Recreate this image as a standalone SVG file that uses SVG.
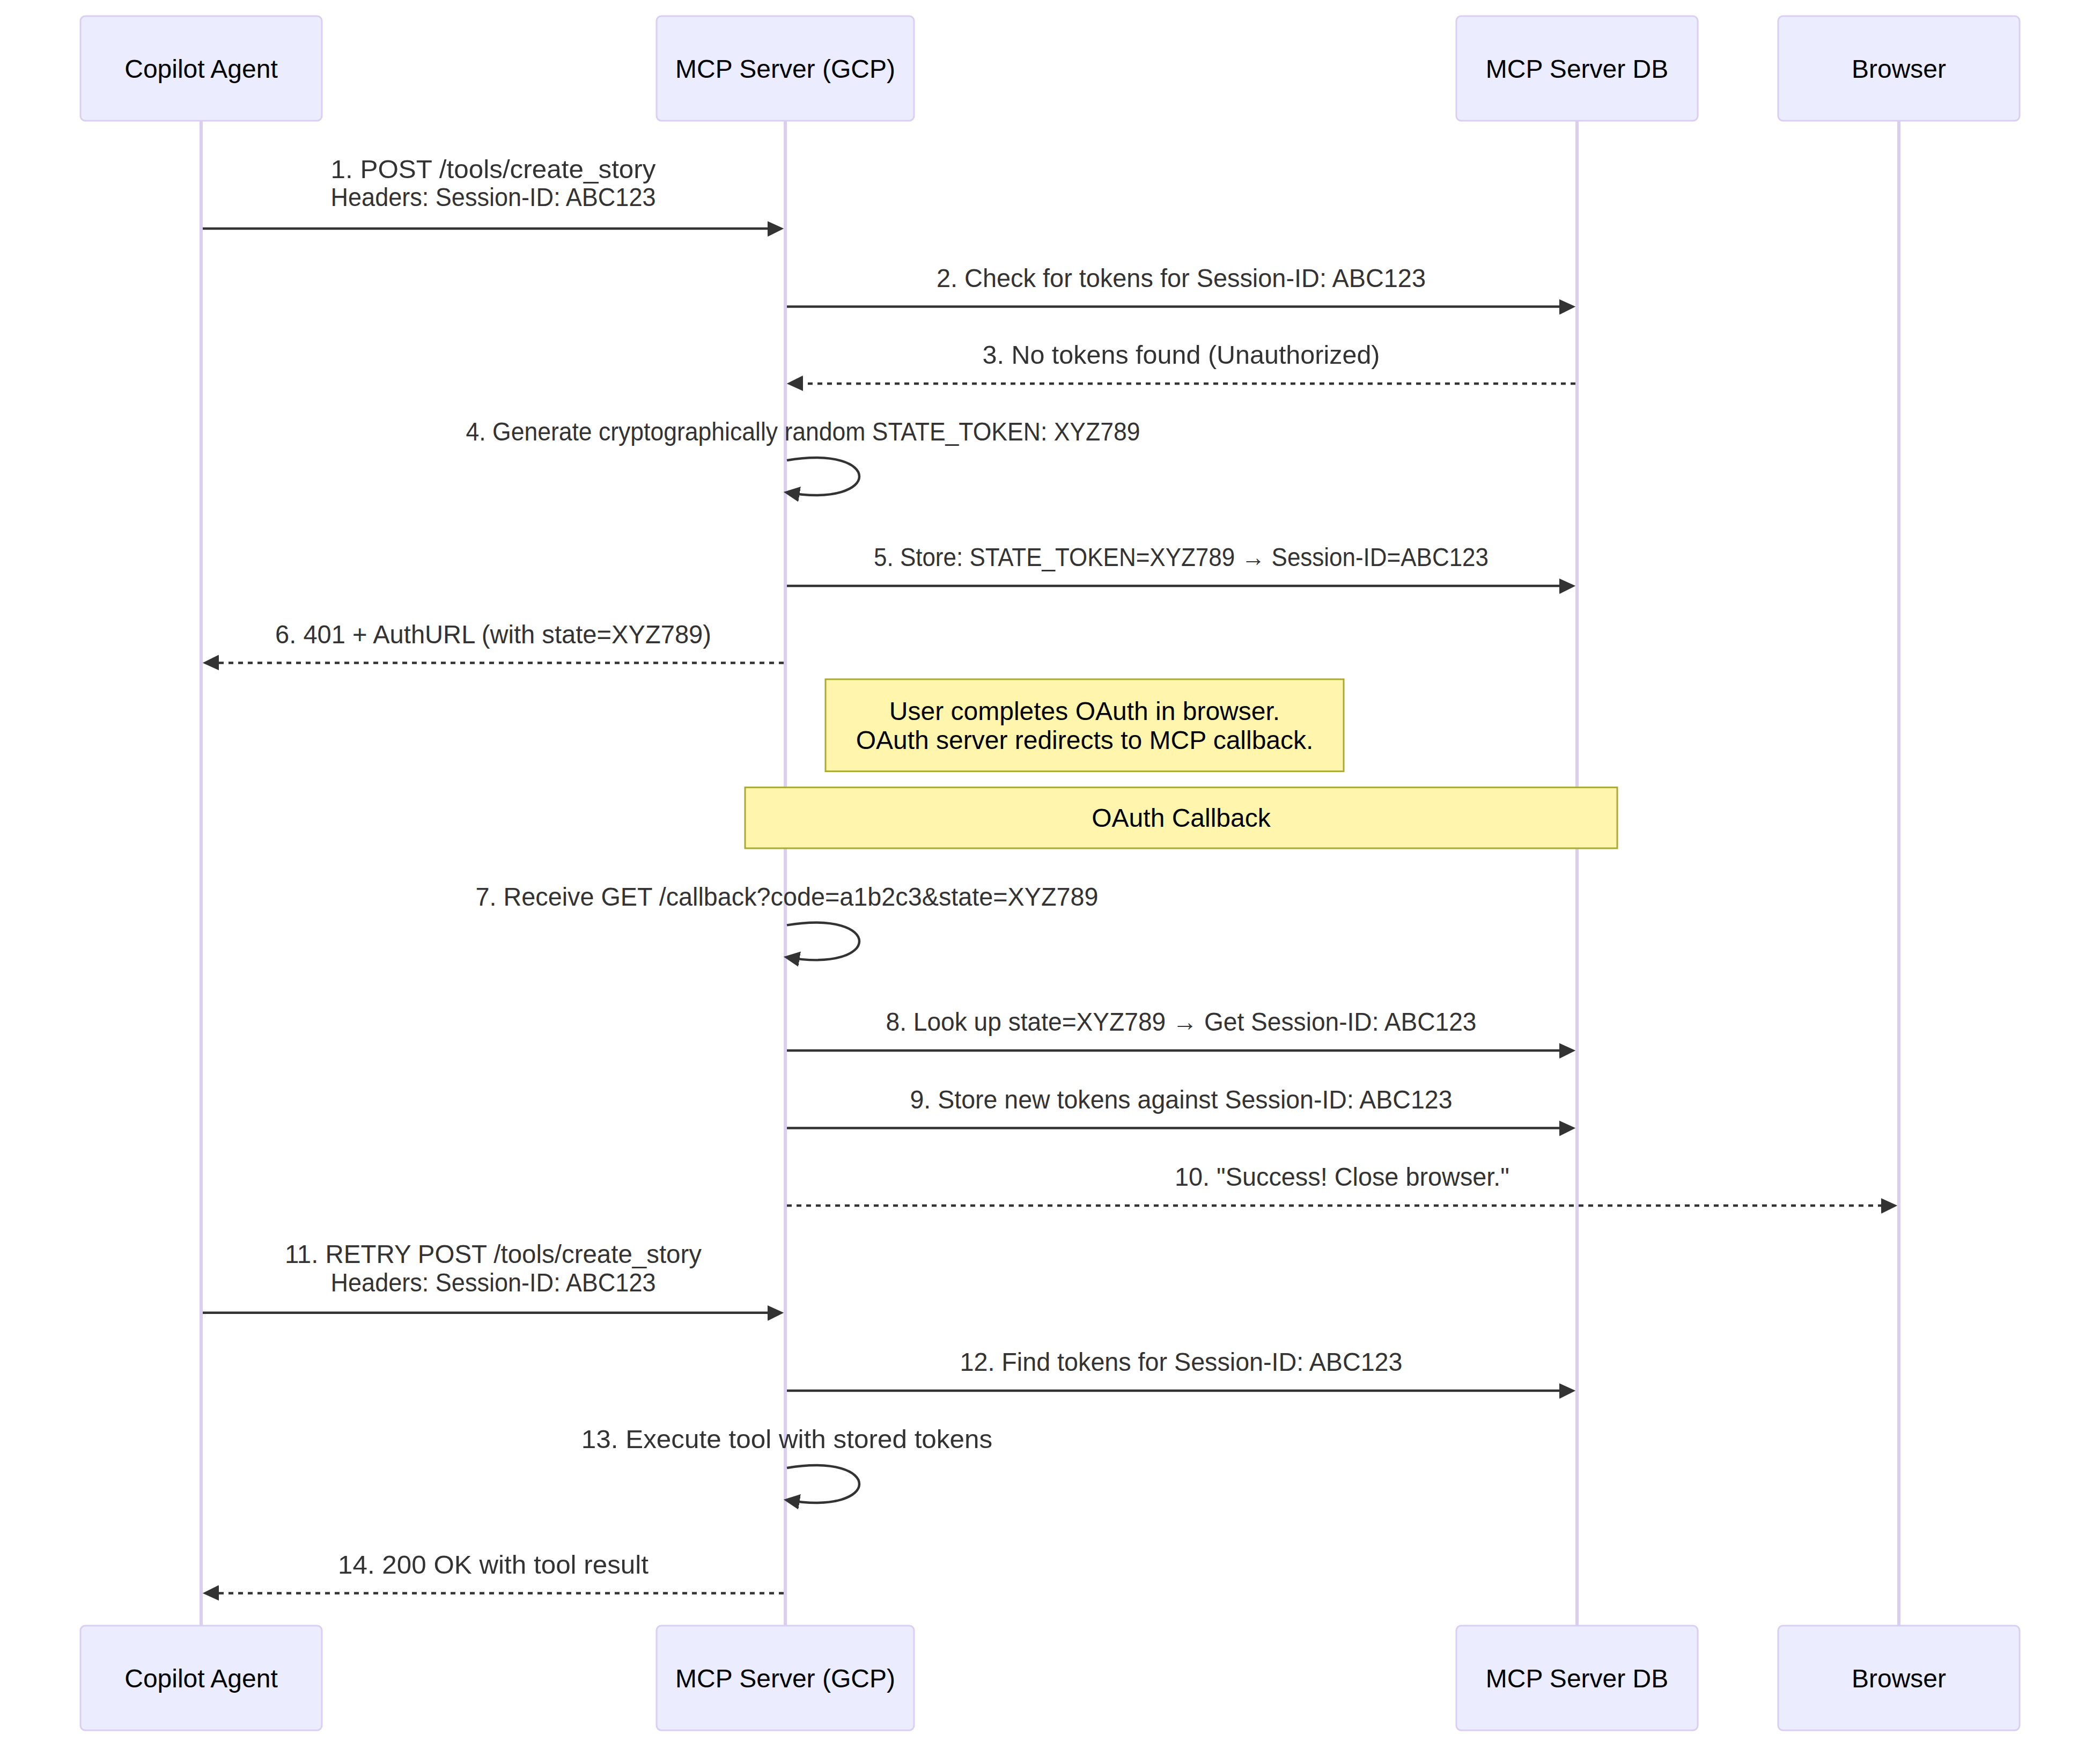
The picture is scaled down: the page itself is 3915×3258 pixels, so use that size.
<svg xmlns="http://www.w3.org/2000/svg" width="3915" height="3258" viewBox="0 0 3915 3258">
  <defs>
    <style>
      .actor { fill: #ECECFF; stroke: hsl(259.6, 59.78%, 87.9%); stroke-width: 1; }
      .lifeline { stroke: hsl(259.6, 59.78%, 87.9%); stroke-width: 2; }
      .actor-text { font-family: "Liberation Sans", Arial, sans-serif; font-size: 16px; fill: #000; text-anchor: middle; }
      .msg { stroke: #333; stroke-width: 1.5; fill: none; }
      .dashed { stroke-dasharray: 3, 3; }
      .msg-text { font-family: "Liberation Sans", Arial, sans-serif; font-size: 16px; fill: #333; text-anchor: middle; }
      .note { fill: #fff5ad; stroke: #aaaa33; stroke-width: 1; }
      .note-text { font-family: "Liberation Sans", Arial, sans-serif; font-size: 16px; fill: #000; text-anchor: middle; }
    </style>
    <marker id="arrowhead" refX="7.9" refY="5" markerUnits="userSpaceOnUse" markerWidth="12" markerHeight="12" orient="auto">
      <path d="M -1 0 L 10 5 L 0 10 z" fill="#333"/>
    </marker>
  </defs>
  <rect width="3915" height="3258" fill="#ffffff"/>
  <g transform="scale(3)">
    <!-- lifelines -->
    <g id="lifelines">
      <line class="lifeline" x1="125" y1="75" x2="125" y2="1010"/>
      <line class="lifeline" x1="488" y1="75" x2="488" y2="1010"/>
      <line class="lifeline" x1="980" y1="75" x2="980" y2="1010"/>
      <line class="lifeline" x1="1180" y1="75" x2="1180" y2="1010"/>
    </g>

    <!-- participants, top row -->
    <g id="actor-copilot-top">
      <rect class="actor" x="50" y="10" width="150" height="65" rx="3" ry="3"/>
      <text class="actor-text" x="125" y="48.2">Copilot Agent</text>
    </g>
    <g id="actor-mcp-top">
      <rect class="actor" x="408" y="10" width="160" height="65" rx="3" ry="3"/>
      <text class="actor-text" x="488" y="48.2">MCP Server (GCP)</text>
    </g>
    <g id="actor-db-top">
      <rect class="actor" x="905" y="10" width="150" height="65" rx="3" ry="3"/>
      <text class="actor-text" x="980" y="48.2">MCP Server DB</text>
    </g>
    <g id="actor-browser-top">
      <rect class="actor" x="1105" y="10" width="150" height="65" rx="3" ry="3"/>
      <text class="actor-text" x="1180" y="48.2">Browser</text>
    </g>

    <!-- participants, bottom row -->
    <g id="actor-copilot-bottom">
      <rect class="actor" x="50" y="1010" width="150" height="65" rx="3" ry="3"/>
      <text class="actor-text" x="125" y="1048.2">Copilot Agent</text>
    </g>
    <g id="actor-mcp-bottom">
      <rect class="actor" x="408" y="1010" width="160" height="65" rx="3" ry="3"/>
      <text class="actor-text" x="488" y="1048.2">MCP Server (GCP)</text>
    </g>
    <g id="actor-db-bottom">
      <rect class="actor" x="905" y="1010" width="150" height="65" rx="3" ry="3"/>
      <text class="actor-text" x="980" y="1048.2">MCP Server DB</text>
    </g>
    <g id="actor-browser-bottom">
      <rect class="actor" x="1105" y="1010" width="150" height="65" rx="3" ry="3"/>
      <text class="actor-text" x="1180" y="1048.2">Browser</text>
    </g>

    <!-- notes -->
    <g id="note-oauth-user">
      <rect class="note" x="513" y="422" width="322" height="57.2"/>
      <text class="note-text" x="674" y="447.2">User completes OAuth in browser.</text>
      <text class="note-text" x="674" y="465.3">OAuth server redirects to MCP callback.</text>
    </g>
    <g id="note-oauth-callback">
      <rect class="note" x="463" y="489.2" width="542" height="37.8"/>
      <text class="note-text" x="734" y="513.8">OAuth Callback</text>
    </g>

    <!-- messages -->
    <g id="connectors">
      <text class="msg-text" x="306.5" y="110.6" textLength="202" lengthAdjust="spacingAndGlyphs">1. POST /tools/create_story</text>
      <text class="msg-text" x="306.5" y="128.1" textLength="202" lengthAdjust="spacingAndGlyphs">Headers: Session-ID: ABC123</text>
      <line class="msg" x1="126" y1="142" x2="485" y2="142" marker-end="url(#arrowhead)"/>

      <text class="msg-text" x="734" y="178.2" textLength="304" lengthAdjust="spacingAndGlyphs">2. Check for tokens for Session-ID: ABC123</text>
      <line class="msg" x1="489" y1="190.5" x2="977" y2="190.5" marker-end="url(#arrowhead)"/>

      <text class="msg-text" x="734" y="226" textLength="247" lengthAdjust="spacingAndGlyphs">3. No tokens found (Unauthorized)</text>
      <line class="msg dashed" x1="979" y1="238.3" x2="491" y2="238.3" marker-end="url(#arrowhead)"/>

      <text class="msg-text" x="499" y="273.7" textLength="419" lengthAdjust="spacingAndGlyphs">4. Generate cryptographically random STATE_TOKEN: XYZ789</text>
      <path class="msg" d="M 489,286 C 549,276 549,316 489,306" marker-end="url(#arrowhead)"/>

      <text class="msg-text" x="734" y="351.7" textLength="382" lengthAdjust="spacingAndGlyphs">5. Store: STATE_TOKEN=XYZ789 → Session-ID=ABC123</text>
      <line class="msg" x1="489" y1="364" x2="977" y2="364" marker-end="url(#arrowhead)"/>

      <text class="msg-text" x="306.5" y="399.5" textLength="271" lengthAdjust="spacingAndGlyphs">6. 401 + AuthURL (with state=XYZ789)</text>
      <line class="msg dashed" x1="487" y1="411.8" x2="128" y2="411.8" marker-end="url(#arrowhead)"/>

      <text class="msg-text" x="489" y="562.5" textLength="387" lengthAdjust="spacingAndGlyphs">7. Receive GET /callback?code=a1b2c3&amp;state=XYZ789</text>
      <path class="msg" d="M 489,574.8 C 549,564.8 549,604.8 489,594.8" marker-end="url(#arrowhead)"/>

      <text class="msg-text" x="734" y="640.4" textLength="367" lengthAdjust="spacingAndGlyphs">8. Look up state=XYZ789 → Get Session-ID: ABC123</text>
      <line class="msg" x1="489" y1="652.7" x2="977" y2="652.7" marker-end="url(#arrowhead)"/>

      <text class="msg-text" x="734" y="688.5" textLength="337" lengthAdjust="spacingAndGlyphs">9. Store new tokens against Session-ID: ABC123</text>
      <line class="msg" x1="489" y1="700.8" x2="977" y2="700.8" marker-end="url(#arrowhead)"/>

      <text class="msg-text" x="834" y="736.7" textLength="208" lengthAdjust="spacingAndGlyphs">10. "Success! Close browser."</text>
      <line class="msg dashed" x1="489" y1="749" x2="1177" y2="749" marker-end="url(#arrowhead)"/>

      <text class="msg-text" x="306.5" y="784.8" textLength="259" lengthAdjust="spacingAndGlyphs">11. RETRY POST /tools/create_story</text>
      <text class="msg-text" x="306.5" y="802.3" textLength="202" lengthAdjust="spacingAndGlyphs">Headers: Session-ID: ABC123</text>
      <line class="msg" x1="126" y1="815.6" x2="485" y2="815.6" marker-end="url(#arrowhead)"/>

      <text class="msg-text" x="734" y="851.7" textLength="275" lengthAdjust="spacingAndGlyphs">12. Find tokens for Session-ID: ABC123</text>
      <line class="msg" x1="489" y1="864" x2="977" y2="864" marker-end="url(#arrowhead)"/>

      <text class="msg-text" x="489" y="899.7" textLength="255.5" lengthAdjust="spacingAndGlyphs">13. Execute tool with stored tokens</text>
      <path class="msg" d="M 489,912 C 549,902 549,942 489,932" marker-end="url(#arrowhead)"/>

      <text class="msg-text" x="306.5" y="977.5" textLength="193" lengthAdjust="spacingAndGlyphs">14. 200 OK with tool result</text>
      <line class="msg dashed" x1="487" y1="989.8" x2="128" y2="989.8" marker-end="url(#arrowhead)"/>
    </g>
  </g>
</svg>
